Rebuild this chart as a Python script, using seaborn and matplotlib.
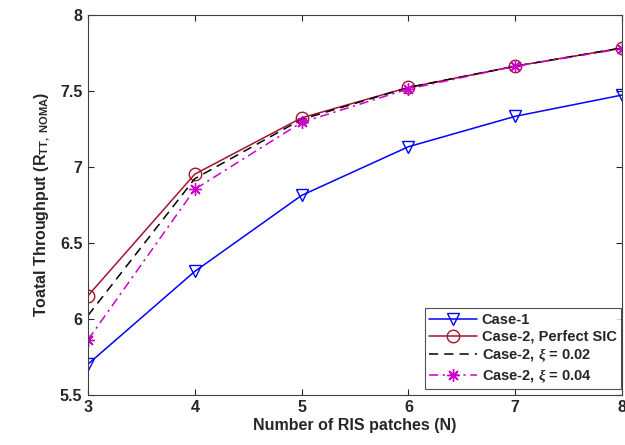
import numpy as np
import pandas as pd
import matplotlib
matplotlib.use("Agg")
import matplotlib.pyplot as plt
import seaborn as sns

N = [3, 4, 5, 6, 7, 8]
case1 = [5.70, 6.31, 6.81, 7.13, 7.33, 7.47]
case2_perfect = [6.15, 6.95, 7.32, 7.52, 7.66, 7.78]
case2_xi002 = [6.02, 6.92, 7.31, 7.52, 7.66, 7.78]
case2_xi004 = [5.86, 6.85, 7.29, 7.51, 7.66, 7.775]
labels = ["Case-1", "Case-2, Perfect SIC", r"Case-2, $\xi$ = 0.02", r"Case-2, $\xi$ = 0.04"]
xticks = [3, 4, 5, 6, 7, 8]
yticks = [5.5, 6, 6.5, 7, 7.5, 8]

sns.set_style("white")
plt.rcParams['font.family'] = ['Liberation Sans', 'DejaVu Sans']
plt.rcParams['mathtext.fontset'] = 'custom'
plt.rcParams['mathtext.it'] = 'Liberation Serif:italic:bold'
plt.rcParams['mathtext.rm'] = 'Liberation Sans:bold'

fig = plt.figure(figsize=(6.25, 4.45), dpi=100)
ax = fig.add_axes([88/625, 1-394.5/445, (622-88)/625, (394.5-14.5)/445])

series = [case1, case2_perfect, case2_xi002, case2_xi004]
colors = ["#0000FF", "#A2142F", "#000000", "#CC00CC"]
styles = ["-", "-", (0, (6, 4)), (0, (6, 3, 1.5, 3))]
markers = ["v", "o", None, (8, 2, 0)]
msizes = [9, 9, 0, 9]

for vals, lab, c, ls, m, ms in zip(series, labels, colors, styles, markers, msizes):
    df = pd.DataFrame({"N": N, "R": vals})
    sns.lineplot(data=df, x="N", y="R", ax=ax, color=c, linestyle=ls, linewidth=1.1,
                 marker=m if m is not None else "", markersize=ms, markerfacecolor="none",
                 markeredgecolor=c, markeredgewidth=1.0, label=lab)

ax.set_xlim(3, 8)
ax.set_ylim(5.5, 8)
ax.set_xticks(xticks)
ax.set_yticks(yticks)
ax.set_yticklabels([f"{v:g}" for v in yticks])
ax.tick_params(direction="in", length=4, width=0.8, colors="#262626", labelsize=11.5, pad=4)
for t in ax.get_xticklabels() + ax.get_yticklabels():
    t.set_fontweight("bold")
for s in ax.spines.values():
    s.set_color("#404040")
    s.set_linewidth(0.8)
ax.tick_params(top=True, right=True, bottom=True, left=True, which="both")

ax.set_xlabel("Number of RIS patches (N)", fontsize=11.5, fontweight="bold", color="#262626", labelpad=2)
ax.set_ylabel(r"Toatal Throughput (R$_{\mathrm{TT,\ NOMA}}$)", fontsize=11.5, fontweight="bold", color="#262626", labelpad=6)

leg = ax.legend(loc="lower right", bbox_to_anchor=((621-88)/534, (394.5-389)/380),
                fontsize=10.5, frameon=True, fancybox=False,
                edgecolor="#262626", handlelength=3.3, handletextpad=0.3, borderpad=0.3,
                labelspacing=0.2, borderaxespad=0)
leg.get_frame().set_linewidth(0.8)
for t in leg.get_texts():
    t.set_fontweight("bold")

fig.savefig("out.png", dpi=100)
